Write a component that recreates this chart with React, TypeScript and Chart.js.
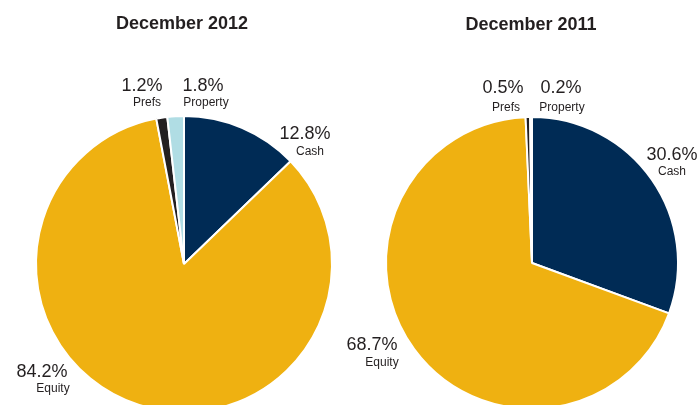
import React, { useEffect, useRef } from "react";
import { Chart, registerables } from "chart.js";

Chart.register(...registerables);

const categories = ["Cash", "Equity", "Prefs", "Property"];
const values2012 = [12.8, 84.2, 1.2, 1.8];
const values2011 = [30.6, 68.7, 0.5, 0.2];
const titles = ["December 2012", "December 2011"];
const sliceColors = ["#002b55", "#efb111", "#231f20", "#b0dde4"];

// label layout (page coordinates: [pctX, pctY, nameX, nameY])
const labelPos2012 = [
  [305, 134, 310, 152],
  [42, 372, 53, 389],
  [142, 86, 147, 103],
  [203, 86, 206, 103],
];
const labelPos2011 = [
  [672, 155, 672, 172],
  [372, 345, 382, 363],
  [503, 88, 506, 108],
  [561, 88, 562, 108],
];

const FONT = "'Liberation Sans', Arial, Helvetica, sans-serif";
const CANVAS_W = 699;
const CANVAS_H = 430;

type PieSpec = {
  title: string;
  titlePos: [number, number];
  values: number[];
  labels: number[][];
  padding: { left: number; top: number; right: number; bottom: number };
};

function PieChart({ spec }: { spec: PieSpec }) {
  const ref = useRef<HTMLCanvasElement | null>(null);
  useEffect(() => {
    if (!ref.current) return;
    const textPlugin = {
      id: "textPlugin",
      afterDraw(chart: any) {
        const ctx = chart.ctx as CanvasRenderingContext2D;
        ctx.save();
        ctx.fillStyle = "#231f20";
        ctx.textAlign = "center";
        ctx.textBaseline = "middle";
        ctx.font = `bold 18px ${FONT}`;
        ctx.fillText(spec.title, spec.titlePos[0], spec.titlePos[1]);
        spec.values.forEach((v, i) => {
          const p = spec.labels[i];
          ctx.font = `18px ${FONT}`;
          ctx.fillText(`${v.toFixed(1)}%`, p[0], p[1]);
          ctx.font = `12px ${FONT}`;
          ctx.fillText(categories[i], p[2], p[3]);
        });
        ctx.restore();
      },
    };
    const chart = new Chart(ref.current, {
      type: "pie",
      data: {
        labels: categories,
        datasets: [
          {
            data: spec.values,
            backgroundColor: sliceColors,
            borderColor: "#ffffff",
            borderWidth: 2,
          },
        ],
      },
      options: {
        animation: false,
        responsive: false,
        maintainAspectRatio: false,
        layout: { padding: spec.padding },
        plugins: {
          legend: { display: false },
          tooltip: { enabled: false },
          title: { display: false },
        },
      },
      plugins: [textPlugin],
    });
    return () => chart.destroy();
  }, [spec]);
  return (
    <canvas
      ref={ref}
      width={CANVAS_W}
      height={CANVAS_H}
      style={{ position: "absolute", left: 0, top: 0, width: CANVAS_W, height: CANVAS_H }}
    />
  );
}

const specs: PieSpec[] = [
  {
    title: titles[0],
    titlePos: [182, 24],
    values: values2012,
    labels: labelPos2012,
    padding: { left: 35, top: 115, right: CANVAS_W - 35 - 298, bottom: CANVAS_H - 115 - 298 },
  },
  {
    title: titles[1],
    titlePos: [531, 25],
    values: values2011,
    labels: labelPos2011,
    padding: { left: 385, top: 116, right: CANVAS_W - 385 - 294, bottom: CANVAS_H - 116 - 294 },
  },
];

export default function App() {
  return (
    <div
      style={{
        position: "fixed",
        left: 0,
        top: 0,
        width: 699,
        height: 405,
        overflow: "hidden",
        background: "#ffffff",
      }}
    >
      {specs.map((s, i) => (
        <PieChart key={i} spec={s} />
      ))}
    </div>
  );
}
